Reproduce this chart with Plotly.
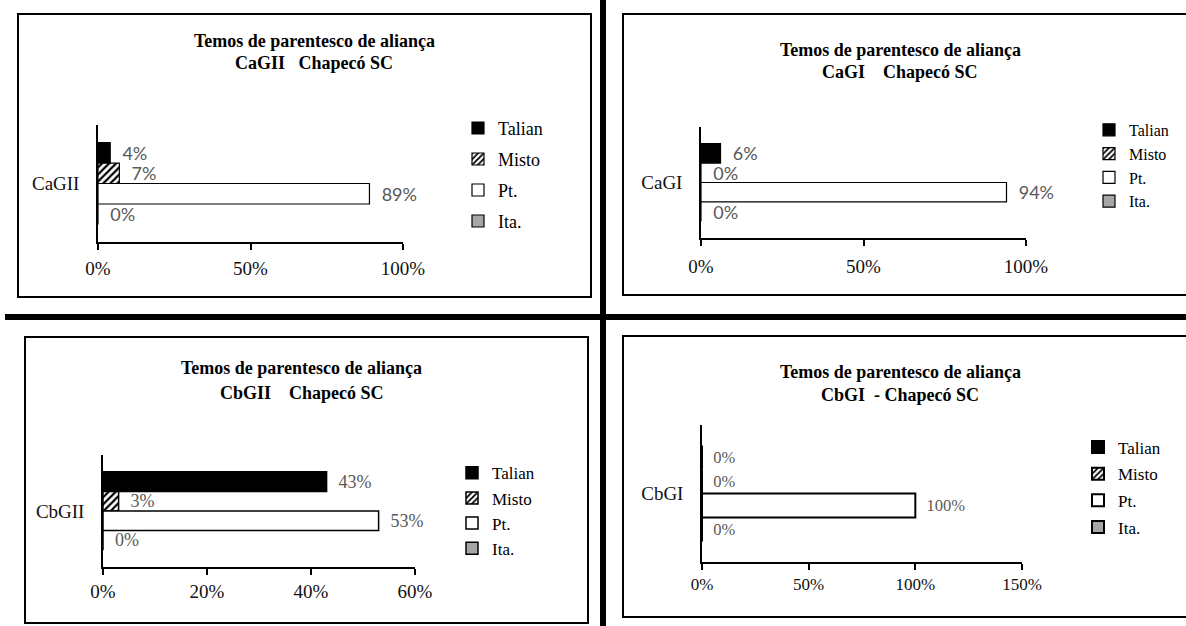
import plotly.graph_objects as go

W, H = 1186, 626

# ---- data -------------------------------------------------------------
categories = ["CaGII", "CaGI", "CbGII", "CbGI"]
series = ["Talian", "Misto", "Pt.", "Ita."]
talian = [0.04, 0.06, 0.43, 0.00]
misto = [0.07, 0.00, 0.03, 0.00]
pt = [0.89, 0.94, 0.53, 1.00]
ita = [0.00, 0.00, 0.00, 0.00]

title_line1 = "Temos de parentesco de aliança"
title_line2 = [
    "CaGII\u00a0\u00a0\u00a0Chapecó SC",
    "CaGI\u00a0\u00a0\u00a0\u00a0Chapecó SC",
    "CbGII\u00a0\u00a0\u00a0\u00a0Chapecó SC",
    "CbGI\u00a0\u00a0-\u00a0Chapecó SC",
]
x_max = [1.0, 1.0, 0.6, 1.5]
x_step = [0.5, 0.5, 0.2, 0.5]

SERIF = "Liberation Serif, Times New Roman, serif"
SANS = "Lato, Carlito, Calibri, sans-serif"

# ---- panel geometry / styling (pixels) ---------------------------------
panels = [
    dict(plot=(98, 403, 125, 242), box=(18, 591, 14, 297), title=(314, 41, 63),
         legend=(458, 109.8, 18, 4.6), label_font=SANS, label_size=18,
         tick_size=19, standoff=2, bar_line=1.2),
    dict(plot=(701, 1026, 127, 238), box=(623, 1200, 14, 295), title=(900, 50, 72),
         legend=(1089, 112.9, 16, 0), label_font=SANS, label_size=18,
         tick_size=19, standoff=4, bar_line=1.2),
    dict(plot=(103, 415, 455, 567), box=(25, 588, 337, 623), title=(302, 368, 393),
         legend=(452, 455.3, 17, 0), label_font=SERIF, label_size=18,
         tick_size=19, standoff=0, bar_line=1.5),
    dict(plot=(702, 1022, 425, 562), box=(623, 1200, 336, 617), title=(900, 372, 395),
         legend=(1078, 429.4, 17, 1.6), label_font=SERIF, label_size=16.5,
         tick_size=17, standoff=0, bar_line=2.0),
]

series_values = [talian, misto, pt, ita]
fills = ["#000000", "#ffffff", "#ffffff", "#a6a6a6"]
patterns = ["", "/", "", ""]

fig = go.Figure()

for i, cat in enumerate(categories):
    p = panels[i]
    sfx = "" if i == 0 else str(i + 1)
    for name, vals, fill, pat in zip(series, series_values, fills, patterns):
        marker = dict(color=fill, line=dict(color="black", width=p["bar_line"]))
        if pat:
            marker["pattern"] = dict(shape=pat, fgcolor="black", bgcolor="white",
                                     size=5, solidity=0.45)
        fig.add_trace(go.Bar(
            y=[cat], x=[vals[i]], orientation="h", name=name,
            xaxis="x" + sfx, yaxis="y" + sfx, legend="legend" + sfx,
            legendgroup=f"{cat}-{name}",
            marker=marker,
            texttemplate="\u00a0\u00a0%{x:.0%}", textposition="outside",
            constraintext="none", cliponaxis=False,
            textfont=dict(family=p["label_font"], size=p["label_size"], color="#595959"),
            hoverinfo="skip",
        ))

layout = dict(
    width=W, height=H, margin=dict(l=0, r=0, t=0, b=0),
    template="none", paper_bgcolor="white", plot_bgcolor="white",
    barmode="group", bargap=0.3, bargroupgap=0,
    annotations=[], shapes=[],
)

for i, p in enumerate(panels):
    sfx = "" if i == 0 else str(i + 1)
    x0, x1, y0, y1 = p["plot"]
    layout["xaxis" + sfx] = dict(
        domain=[x0 / W, x1 / W], anchor="y" + sfx, range=[0, x_max[i]],
        tickmode="linear", tick0=0, dtick=x_step[i], tickformat=".0%",
        showline=True, linecolor="black", linewidth=2,
        ticks="outside", ticklen=6, tickwidth=1.5, tickcolor="black",
        showgrid=False, zeroline=False, fixedrange=True,
        tickfont=dict(family=SERIF, size=p["tick_size"], color="#111111"),
        ticklabelstandoff=p["standoff"],
    )
    layout["yaxis" + sfx] = dict(
        domain=[1 - y1 / H, 1 - y0 / H], anchor="x" + sfx, type="category",
        range=[0.5, -0.5], showline=True, linecolor="black", linewidth=1.5,
        ticks="", showgrid=False, zeroline=False, fixedrange=True,
        tickfont=dict(family=SERIF, size=19, color="#111111"),
        ticklabelstandoff=13,
    )
    lx, ly, lfs, lgap = p["legend"]
    layout["legend" + sfx] = dict(
        x=lx / W, y=1 - ly / H, xanchor="left", yanchor="top",
        bgcolor="rgba(0,0,0,0)", borderwidth=0, tracegroupgap=lgap,
        font=dict(family=SERIF, size=lfs, color="black"),
    )
    tx, ty1, ty2 = p["title"]
    for ty, txt in ((ty1, title_line1), (ty2, title_line2[i])):
        layout["annotations"].append(dict(
            x=tx / W, y=1 - ty / H, xref="paper", yref="paper",
            text="<b>" + txt + "</b>", showarrow=False,
            xanchor="center", yanchor="middle",
            font=dict(family=SERIF, size=18, color="black"),
        ))
    bx0, bx1, by0, by1 = p["box"]
    layout["shapes"].append(dict(
        type="rect", xref="paper", yref="paper", layer="below",
        x0=bx0 / W, x1=bx1 / W, y0=1 - by1 / H, y1=1 - by0 / H,
        line=dict(color="black", width=2), fillcolor="rgba(0,0,0,0)",
    ))

# thick dividers between the four charts
layout["shapes"].append(dict(type="rect", xref="paper", yref="paper", layer="above",
                             x0=600 / W, x1=606 / W, y0=0, y1=1,
                             line=dict(width=0), fillcolor="black"))
layout["shapes"].append(dict(type="rect", xref="paper", yref="paper", layer="above",
                             x0=5 / W, x1=1, y0=1 - 320 / H, y1=1 - 314 / H,
                             line=dict(width=0), fillcolor="black"))

fig.update_layout(**layout)
fig.write_html("out.html")
